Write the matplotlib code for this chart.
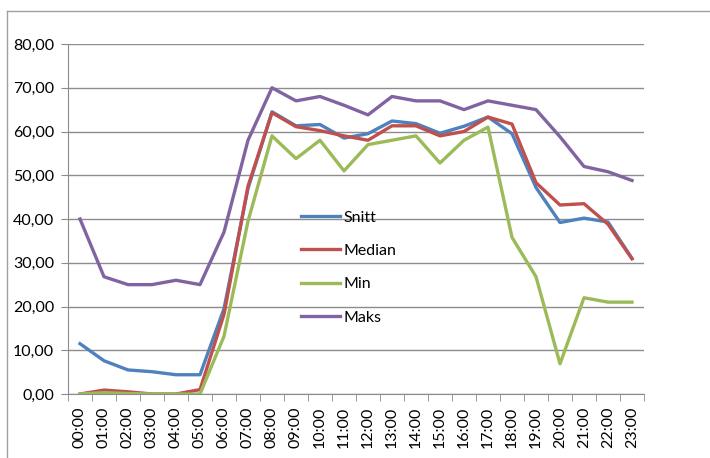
import matplotlib.pyplot as plt
from matplotlib.lines import Line2D
from matplotlib.ticker import FixedLocator, FuncFormatter

plt.rcParams['font.family'] = ['Lato', 'DejaVu Sans']

# Hourly values over the day
hours = ["00:00", "01:00", "02:00", "03:00", "04:00", "05:00", "06:00", "07:00",
         "08:00", "09:00", "10:00", "11:00", "12:00", "13:00", "14:00", "15:00",
         "16:00", "17:00", "18:00", "19:00", "20:00", "21:00", "22:00", "23:00"]
snitt = [11.5, 7.6, 5.5, 5.1, 4.4, 4.4, 19.5, 47.0, 64.5, 61.3, 61.6, 58.5,
         59.5, 62.4, 61.8, 59.6, 61.2, 63.3, 59.5, 47.2, 39.2, 40.2, 39.3, 31.0]
median = [0.0, 0.9, 0.5, 0.0, 0.0, 1.0, 18.2, 47.5, 64.3, 61.1, 60.2, 59.0,
          58.0, 61.3, 61.3, 59.0, 60.0, 63.3, 61.7, 48.3, 43.2, 43.5, 38.8, 30.9]
minimum = [0.0, 0.3, 0.1, 0.0, 0.0, 0.0, 13.2, 39.5, 59.0, 53.8, 58.0, 51.0,
           57.0, 58.0, 59.0, 52.8, 58.0, 61.0, 35.8, 26.8, 6.9, 22.0, 21.0, 21.0]
maks = [40.0, 26.8, 25.0, 25.0, 26.0, 25.0, 37.0, 58.0, 70.0, 67.0, 68.0, 66.0,
        63.8, 68.0, 67.0, 67.0, 65.0, 67.0, 66.0, 65.0, 58.8, 52.0, 50.8, 48.8]

series = [("Snitt", snitt, "#4F81BD"),
          ("Median", median, "#C0504D"),
          ("Min", minimum, "#9BBB59"),
          ("Maks", maks, "#8064A2")]

W, H = 710, 458
fig = plt.figure(figsize=(W / 100, H / 100), dpi=100)
ax = fig.add_axes([68 / W, 64 / H, (644 - 68) / W, (394 - 44) / H])

x = list(range(len(hours)))
for name, vals, col in series:
    ax.plot(x, vals, color=col, lw=2.4, label=name, solid_joinstyle='round')

ax.set_xlim(-0.5, len(hours) - 0.5)
ax.set_ylim(0, 80)

grid_col = "#8c8c8c"
ax.set_yticks(range(0, 81, 10))
ax.yaxis.set_major_formatter(FuncFormatter(lambda v, p: f"{v:.2f}".replace(".", ",")))
ax.grid(axis='y', color=grid_col, lw=1)
ax.set_axisbelow(True)

ax.set_xticks(x)
ax.set_xticklabels(hours, rotation=90)
ax.xaxis.set_minor_locator(FixedLocator([i - 0.5 for i in range(len(hours) + 1)]))
ax.tick_params(axis='x', which='major', length=0, pad=9, labelsize=11.5)
ax.tick_params(axis='x', which='minor', length=5, color=grid_col)
ax.tick_params(axis='y', length=5, color=grid_col, pad=5, labelsize=11.5)

for s in ['top', 'right']:
    ax.spines[s].set_visible(False)
for s in ['left', 'bottom']:
    ax.spines[s].set_color(grid_col)

leg = fig.legend(loc='upper left', bbox_to_anchor=(287 / W, 1 - 196 / H),
                 frameon=False, fontsize=11.5, handlelength=2.4,
                 handletextpad=0.25, labelspacing=1.2)

# outer chart frame
y_top = 1 - 11 / H
x_left = 7 / W
fig.add_artist(Line2D([x_left, 1], [y_top, y_top], color="#a0a0a0", lw=1))
fig.add_artist(Line2D([x_left, x_left], [0, y_top], color="#a0a0a0", lw=1))

fig.savefig("out.png", dpi=100)
